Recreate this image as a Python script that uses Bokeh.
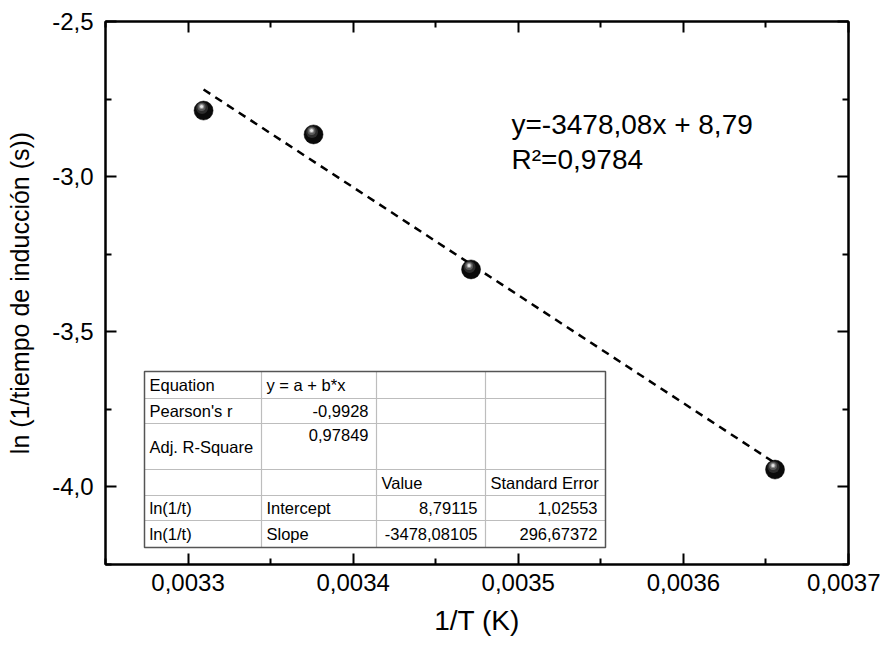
import numpy as np
from bokeh.plotting import figure
from bokeh.models import Range1d, FixedTicker, CustomJSTickFormatter, LinearAxis, Label
from bokeh.core.properties import value
from bokeh.embed import file_html
from bokeh.resources import INLINE

# ---------------- data ----------------
inv_T = [0.0033094, 0.0033760, 0.0034714, 0.0036555]
ln_inv_t = [-2.787, -2.864, -3.299, -3.944]
fit_slope = -3478.08105
fit_intercept = 8.79115

x_ticks = [0.0033, 0.0034, 0.0035, 0.0036, 0.0037]
x_minor = [0.00325, 0.00335, 0.00345, 0.00355, 0.00365]
y_ticks = [-4.0, -3.5, -3.0, -2.5]
y_minor = [-4.25, -3.75, -3.25, -2.75]

x_title = "1/T (K)"
y_title = "ln (1/tiempo de inducción (s))"
eq_line1 = "y=-3478,08x + 8,79"
eq_line2 = "R²=0,9784"

table_col0 = ["Equation", "Pearson's r", "Adj. R-Square", "", "ln(1/t)", "ln(1/t)"]
table_col1 = ["y = a + b*x", "-0,9928", "0,97849", "", "Intercept", "Slope"]
table_col2 = ["", "", "", "Value", "8,79115", "-3478,08105"]
table_col3 = ["", "", "", "Standard Error", "1,02553", "296,67372"]

# ---------------- layout ----------------
X0, X1 = 0.00325, 0.0037
Y0, Y1 = -4.25, -2.5
FONT_NAME = "Liberation Sans"
FONT = value(FONT_NAME)
W, H = 880, 644
# frame in page pixels (used for placing annotations)
FL, FR, FT, FB = 105, 848, 21, 564


def px_x(px):
    return X0 + (px - FL) / (FR - FL) * (X1 - X0)


def px_y(py):
    return Y1 - (py - FT) / (FB - FT) * (Y1 - Y0)


def dpx_x(d):
    return d / (FR - FL) * (X1 - X0)


def dpx_y(d):
    return -d / (FB - FT) * (Y1 - Y0)


p = figure(frame_width=FR - FL, frame_height=FB - FT,
           x_range=Range1d(X0, X1), y_range=Range1d(Y0, Y1),
           output_backend="svg", toolbar_location=None,
           min_border_left=FL, min_border_right=W - FR,
           min_border_top=FT, min_border_bottom=H - FB)
p.xgrid.visible = False
p.ygrid.visible = False
p.outline_line_color = "black"
p.outline_line_width = 2
p.background_fill_color = "white"
p.border_fill_color = "white"

xt = FixedTicker(ticks=x_ticks, minor_ticks=x_minor)
yt = FixedTicker(ticks=y_ticks, minor_ticks=y_minor)
xf = CustomJSTickFormatter(code="return tick.toFixed(4).replace('.', ',');")
yf = CustomJSTickFormatter(code="return tick.toFixed(1).replace('.', ',');")
blank = CustomJSTickFormatter(code="return '';")


def style_axis(ax, ticker, show_labels):
    ax.ticker = ticker
    ax.axis_line_width = 2
    ax.axis_line_color = "black"
    ax.major_tick_in = 11
    ax.major_tick_out = 0
    ax.minor_tick_in = 6
    ax.minor_tick_out = 0
    ax.major_tick_line_width = 2
    ax.minor_tick_line_width = 2
    ax.major_tick_line_color = "black"
    ax.minor_tick_line_color = "black"
    if show_labels:
        ax.major_label_text_font = FONT_NAME
        ax.major_label_text_font_size = "24px"
        ax.major_label_text_color = "black"
        ax.axis_label_text_font = FONT_NAME
        ax.axis_label_text_font_style = "normal"
        ax.axis_label_text_color = "black"
    else:
        ax.formatter = blank
        ax.major_label_text_font_size = "1px"
        ax.major_label_standoff = 0


xa = p.xaxis[0]
style_axis(xa, xt, True)
xa.formatter = xf
xa.axis_label = x_title
xa.axis_label_text_font_size = "28px"
xa.major_label_standoff = 9
xa.axis_label_standoff = 11

ya = p.yaxis[0]
style_axis(ya, yt, True)
ya.formatter = yf
ya.axis_label = y_title
ya.axis_label_text_font_size = "25px"
ya.major_label_standoff = 12
ya.axis_label_standoff = 15

top = LinearAxis()
style_axis(top, xt, False)
p.add_layout(top, "above")
right = LinearAxis()
style_axis(right, yt, False)
p.add_layout(right, "right")

# ---------------- fit line ----------------
fx = np.array([min(inv_T), max(inv_T)])
fy = fit_slope * fx + fit_intercept
p.line(fx, fy, line_color="black", line_width=2.5, line_dash="8 6")

# ---------------- spheres ----------------
xs = np.array(inv_T)
ys = np.array(ln_inv_t)
p.scatter(xs, ys, size=19, fill_color="#0a0a0a", line_color="#000000", line_width=0.5)
for sz, col, ox, oy in [(12, "#2c2c2c", -1.5, -2.5), (8, "#5a5a5a", -2, -3.5),
                         (5, "#9a9a9a", -2, -4), (3, "#e6e6e6", -2, -4)]:
    p.scatter(xs + dpx_x(ox), ys + dpx_y(oy), size=sz, fill_color=col, line_color=None)

# ---------------- equation text ----------------
p.add_layout(Label(x=px_x(511), y=px_y(124), text=eq_line1, text_font=FONT_NAME,
                   text_font_size="28px", text_baseline="middle", text_color="black"))
p.add_layout(Label(x=px_x(511), y=px_y(159), text=eq_line2, text_font=FONT_NAME,
                   text_font_size="28px", text_baseline="middle", text_color="black"))

# ---------------- stats table ----------------
col_edges = [144, 261, 376, 485, 605]
row_edges = [371, 398, 423, 469, 495, 520, 547]

p.quad(left=px_x(col_edges[0]), right=px_x(col_edges[-1]),
       top=px_y(row_edges[0]), bottom=px_y(row_edges[-1]),
       fill_color="white", line_color=None)
sx0, sy0, sx1, sy1 = [], [], [], []
for c in col_edges[1:-1]:
    sx0.append(px_x(c)); sx1.append(px_x(c))
    sy0.append(px_y(row_edges[0])); sy1.append(px_y(row_edges[-1]))
for r in row_edges[1:-1]:
    sx0.append(px_x(col_edges[0])); sx1.append(px_x(col_edges[-1]))
    sy0.append(px_y(r)); sy1.append(px_y(r))
p.segment(sx0, sy0, sx1, sy1, line_color="#bdbdbd", line_width=1.2)
p.quad(left=px_x(col_edges[0]), right=px_x(col_edges[-1]),
       top=px_y(row_edges[0]), bottom=px_y(row_edges[-1]),
       fill_color=None, line_color="#555555", line_width=1.5)


def is_num(s):
    return len(s) > 0 and (s[0].isdigit() or s[0] == "-")


lx, ly, lt, rx, ry, rt = [], [], [], [], [], []
for ci, col in enumerate([table_col0, table_col1, table_col2, table_col3]):
    for ri, s in enumerate(col):
        if not s:
            continue
        ytop, ybot = row_edges[ri], row_edges[ri + 1]
        yc = (ytop + ybot) / 2
        if ci > 0 and (ybot - ytop) > 35:
            yc = ytop + 11
        if ci > 0 and is_num(s):
            rx.append(px_x(col_edges[ci + 1] - 8)); ry.append(px_y(yc)); rt.append(s)
        else:
            lx.append(px_x(col_edges[ci] + 5)); ly.append(px_y(yc)); lt.append(s)

p.text(lx, ly, text=lt, text_font=FONT, text_font_size=value("16.5px"),
       text_align="left", text_baseline="middle", text_color="black")
p.text(rx, ry, text=rt, text_font=FONT, text_font_size=value("16.5px"),
       text_align="right", text_baseline="middle", text_color="black")

open("out.html", "w").write(file_html(p, INLINE))
